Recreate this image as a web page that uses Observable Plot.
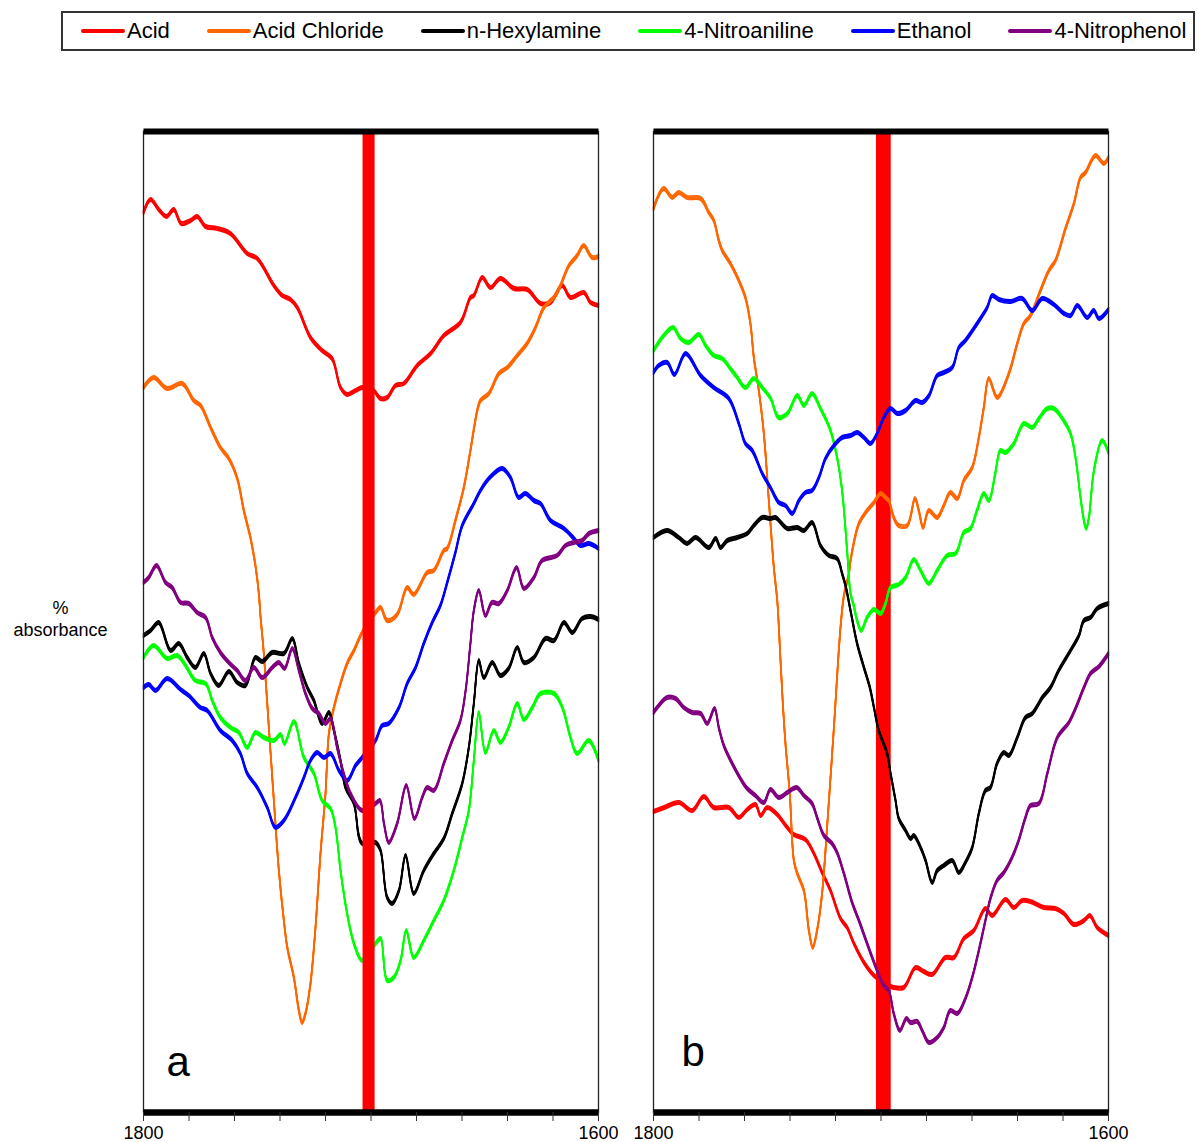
<!DOCTYPE html>
<html>
<head>
<meta charset="utf-8">
<script src="https://cdn.jsdelivr.net/npm/d3@7"></script>
<script src="https://cdn.jsdelivr.net/npm/@observablehq/plot@0.6"></script>
<style>
  body { margin: 0; background: #fff; font-family: Arial, "Liberation Sans", sans-serif; }
  #page { position: relative; width: 1199px; height: 1142px; overflow: hidden; background: #fff; }
  #legend {
    position: absolute; left: 61px; top: 11px; width: 1134px; height: 40px;
    box-sizing: border-box; border: 2px solid #333;
    display: flex; align-items: center; padding-left: 18px; gap: 37px;
    font-size: 22px; color: #000; white-space: nowrap;
  }
  .item { display: flex; align-items: center; }
  .swatch { display: inline-block; width: 44px; height: 4px; border-radius: 2px; margin-right: 2px; }
  #ylabel {
    position: absolute; left: 0; top: 597px; width: 121px; text-align: center;
    font-size: 18px; line-height: 22px; color: #000;
  }
  .panel { position: absolute; top: 100px; }
</style>
</head>
<body>
<div id="page">
  <div id="legend"></div>
  <div id="ylabel">%<br>absorbance</div>
  <div id="panelA" class="panel" style="left:100px"></div>
  <div id="panelB" class="panel" style="left:610px"></div>
</div>
<script>
// Series, in drawing order
const seriesNames = ["Acid", "Acid Chloride", "n-Hexylamine", "4-Nitroaniline", "Ethanol", "4-Nitrophenol"];
const seriesColors = ["#ff0000", "#ff6600", "#000000", "#00ff00", "#0000ff", "#800080"];

// Wavenumber axis (cm-1), reversed
const xDomain = [1800, 1600];
const tickValues = [1800, 1780, 1760, 1740, 1720, 1700, 1680, 1660, 1640, 1620, 1600];
const tickLabels = [1800, 1600];

// Marker bands [from, to] in cm-1
const bandA = [1703.5, 1698.2];
const bandB = [1702.0, 1695.5];

// Panel a spectra: [wavenumber, % absorbance]
const acidA = [[1800,89.8],[1796.9,91.1],[1793.3,90.1],[1789.9,89.4],[1786.7,90.1],[1783.4,88.7],[1779.3,89.0],[1776.4,89.4],[1772.7,88.4],[1767.6,88.2],[1761.8,87.7],[1754.4,85.7],[1750.0,85.2],[1742.7,82.5],[1739.0,81.5],[1735.4,81.1],[1732.4,80.3],[1726.6,77.3],[1721.5,76.0],[1717.1,75.2],[1713.4,72.3],[1710.5,71.6],[1706.8,72.0],[1703.9,72.3],[1701.2,72.2],[1698.8,72.0],[1695.8,71.2],[1692.9,71.3],[1689.2,72.5],[1685.6,72.7],[1679.7,74.5],[1673.8,75.7],[1668.0,77.5],[1660.7,78.8],[1656.3,81.3],[1654.8,81.5],[1651.1,83.3],[1647.5,82.3],[1643.1,83.2],[1637.2,82.2],[1631.3,82.1],[1625.5,80.7],[1621.1,80.8],[1616.0,82.5],[1612.3,81.3],[1606.5,81.8],[1603.5,80.8],[1600,80.5]];
const chlorideA = [[1800,72.3],[1795.5,73.3],[1789.6,72.2],[1783.0,72.7],[1777.9,71.0],[1774.9,70.5],[1770.5,68.3],[1766.2,66.3],[1762.5,65.2],[1758.8,63.2],[1755.9,60.0],[1753.0,57.3],[1750.8,54.5],[1749.3,51.7],[1748.6,49.5],[1747.1,45.7],[1744.9,38.3],[1742.7,31.0],[1740.5,24.0],[1738.3,19.0],[1736.8,16.3],[1733.9,13.3],[1731.7,10.0],[1730.3,8.8],[1728.8,9.7],[1726.6,12.7],[1724.4,18.3],[1722.2,25.7],[1720.0,31.7],[1718.5,37.7],[1716.3,40.3],[1713.4,42.7],[1710.5,44.7],[1707.5,46.0],[1703.9,47.8],[1698.0,49.8],[1695.8,50.3],[1692.9,49.0],[1688.5,49.6],[1684.1,52.3],[1681.2,51.6],[1675.3,53.8],[1672.4,54.0],[1668.0,56.0],[1666.5,56.2],[1662.9,59.0],[1659.2,62.3],[1656.3,66.0],[1653.3,70.0],[1651.9,71.0],[1648.2,71.7],[1643.8,73.7],[1640.1,74.3],[1635.7,75.5],[1631.4,76.7],[1627.7,78.3],[1624.0,80.3],[1618.9,81.5],[1616.7,82.5],[1613.0,84.5],[1609.4,85.5],[1606.5,86.5],[1602.8,85.3],[1600,85.4]];
const hexylamineA = [[1800,47.5],[1796.9,48.0],[1793.3,48.8],[1788.1,46.0],[1784.5,46.7],[1780.8,45.3],[1777.2,44.3],[1773.5,45.7],[1770.5,43.7],[1766.9,42.5],[1762.5,43.9],[1758.8,42.8],[1755.2,42.5],[1750.8,45.3],[1747.8,44.9],[1743.4,45.8],[1738.3,45.7],[1734.6,47.2],[1731.7,44.7],[1728.0,42.3],[1725.1,41.0],[1721.5,38.7],[1718.5,39.8],[1716.3,38.0],[1713.4,35.0],[1711.2,32.3],[1707.5,30.7],[1703.9,26.7],[1698.0,26.8],[1695.8,26.0],[1692.9,21.3],[1690.7,20.7],[1687.7,22.0],[1684.8,25.5],[1681.2,21.7],[1676.8,24.0],[1672.4,25.7],[1668.0,27.2],[1664.3,29.7],[1659.9,32.7],[1657.0,36.3],[1654.8,40.7],[1652.6,45.0],[1650.4,43.3],[1646.7,44.8],[1643.1,43.5],[1639.5,44.2],[1635.7,46.3],[1632.8,44.8],[1628.4,45.3],[1623.3,47.2],[1619.6,47.0],[1615.2,48.8],[1611.5,47.8],[1607.2,49.2],[1603.5,49.4],[1600,49.1]];
const nitroanilineA = [[1800,45.3],[1795.5,46.5],[1789.6,45.2],[1785.2,45.5],[1781.5,44.5],[1777.2,43.0],[1772.7,42.7],[1769.8,41.0],[1766.2,39.3],[1761.8,38.3],[1758.1,37.8],[1754.4,36.3],[1750.8,37.8],[1747.1,37.3],[1742.7,37.0],[1739.8,37.6],[1738.0,36.7],[1733.9,38.9],[1729.5,35.3],[1725.1,33.7],[1721.5,31.0],[1717.8,30.2],[1715.6,28.3],[1713.4,24.0],[1710.5,19.7],[1707.5,16.7],[1703.9,15.0],[1698.0,16.7],[1695.8,17.2],[1692.9,13.0],[1690.0,13.3],[1687.0,15.0],[1684.5,18.0],[1681.2,15.3],[1676.8,17.0],[1672.4,19.0],[1668.0,21.0],[1663.6,24.0],[1659.9,27.3],[1657.0,30.0],[1654.8,35.0],[1652.6,39.8],[1649.7,35.8],[1646.0,38.0],[1643.1,36.8],[1639.5,38.3],[1635.7,40.7],[1632.8,39.1],[1629.1,40.3],[1625.5,41.7],[1619.6,41.7],[1615.9,40.3],[1612.3,37.3],[1609.4,35.7],[1604.3,37.0],[1600,35.0]];
const ethanolA = [[1800,42.3],[1797.7,42.6],[1794.7,42.0],[1789.6,43.2],[1783.7,42.1],[1780.1,41.5],[1775.0,40.3],[1772.0,40.0],[1766.2,38.0],[1761.0,37.0],[1757.4,35.7],[1754.4,33.7],[1750.0,32.3],[1745.6,30.3],[1742.0,28.3],[1738.3,29.0],[1733.2,31.3],[1729.5,33.3],[1726.6,35.0],[1723.7,35.8],[1720.7,35.3],[1717.8,35.7],[1714.1,34.0],[1710.5,33.0],[1706.8,34.5],[1703.9,35.3],[1698.0,37.0],[1695.1,38.5],[1692.2,38.7],[1687.7,40.3],[1684.1,42.7],[1680.4,44.3],[1676.8,46.7],[1673.1,48.8],[1669.5,50.5],[1666.5,52.8],[1662.9,55.8],[1659.9,58.5],[1654.8,60.7],[1651.9,62.0],[1648.2,63.2],[1642.4,64.2],[1638.7,63.3],[1635.1,61.3],[1632.2,61.7],[1628.4,61.0],[1625.5,60.7],[1621.1,59.0],[1615.2,58.2],[1610.8,57.2],[1607.9,56.5],[1604.2,56.7],[1600,56.2]];
const nitrophenolA = [[1800,52.8],[1797.7,53.3],[1794.3,54.5],[1790.3,52.8],[1787.4,52.3],[1783.7,50.8],[1780.1,50.7],[1776.4,49.8],[1772.7,49.3],[1769.8,47.3],[1766.2,45.8],[1762.5,44.8],[1758.8,44.0],[1755.2,43.0],[1751.5,44.3],[1747.8,43.3],[1743.4,44.3],[1740.5,44.8],[1738.0,44.2],[1734.6,46.2],[1731.7,44.0],[1728.8,41.7],[1725.8,40.2],[1722.9,39.7],[1720.0,38.7],[1717.8,39.2],[1714.9,36.3],[1712.0,33.7],[1709.0,31.7],[1703.9,30.0],[1698.0,30.7],[1696.1,31.0],[1694.3,28.7],[1692.2,26.8],[1688.5,28.7],[1684.5,32.5],[1680.9,29.2],[1677.5,31.3],[1675.3,32.3],[1672.4,32.0],[1668.0,34.7],[1664.3,37.0],[1660.7,39.0],[1658.4,42.0],[1656.3,46.7],[1654.8,50.0],[1652.6,52.0],[1649.7,49.5],[1646.8,50.8],[1643.8,50.7],[1640.1,52.0],[1636.0,54.3],[1632.8,52.2],[1628.4,53.3],[1624.8,55.0],[1618.2,55.5],[1614.5,56.5],[1610.8,56.8],[1607.2,57.0],[1604.2,57.7],[1600,58.0]];

// Panel b spectra: [wavenumber, % absorbance]
const acidB = [[1800,29.9],[1795.3,30.3],[1788.9,30.8],[1783.0,30.0],[1777.9,31.4],[1773.5,30.3],[1766.9,30.3],[1762.5,29.3],[1758.8,30.1],[1755.2,30.6],[1752.9,29.5],[1750.0,30.3],[1745.6,29.6],[1741.9,28.5],[1738.3,27.6],[1733.2,27.1],[1729.5,25.7],[1725.9,23.8],[1722.2,22.0],[1717.8,19.2],[1714.9,18.3],[1711.9,16.7],[1707.5,14.8],[1703.1,13.5],[1698.8,12.8],[1694.4,12.3],[1690.0,12.3],[1684.8,14.3],[1681.2,13.9],[1677.5,13.6],[1671.7,15.3],[1668.0,15.3],[1663.6,17.2],[1659.2,18.0],[1654.1,20.2],[1651.1,19.5],[1645.3,21.1],[1641.6,20.3],[1638.0,21.0],[1634.3,20.9],[1628.4,20.3],[1623.3,20.2],[1619.6,19.7],[1615.2,18.6],[1610.8,19.0],[1608.2,19.5],[1605.0,18.3],[1600,17.5]];
const chlorideB = [[1800,90.2],[1795.5,92.2],[1791.8,91.3],[1788.9,91.8],[1785.2,91.3],[1779.3,91.2],[1775.7,89.8],[1773.5,89.0],[1771.3,87.0],[1769.8,86.0],[1766.2,84.7],[1762.5,83.0],[1759.6,81.3],[1757.4,78.7],[1755.9,75.3],[1753.7,72.0],[1751.5,67.7],[1749.3,61.0],[1747.1,54.3],[1745.6,51.0],[1744.9,48.3],[1743.4,41.7],[1742.0,36.7],[1740.1,31.7],[1738.3,25.0],[1736.8,23.7],[1733.9,22.0],[1731.7,18.0],[1730.0,16.3],[1728.1,18.0],[1725.9,21.7],[1723.7,28.3],[1720.7,38.3],[1717.8,48.3],[1716.3,51.5],[1714.1,53.7],[1713.4,55.0],[1709.7,58.7],[1706.1,60.0],[1703.1,60.8],[1700.2,61.7],[1698.0,61.3],[1696.6,61.0],[1694.4,59.3],[1692.2,58.5],[1688.5,58.5],[1685.1,61.2],[1683.4,60.0],[1681.5,58.3],[1679.0,60.0],[1675.3,59.3],[1672.4,60.5],[1669.5,61.8],[1666.5,61.2],[1663.6,63.0],[1659.9,64.3],[1657.0,67.3],[1654.8,70.3],[1652.6,73.2],[1648.9,71.3],[1643.8,73.7],[1640.1,76.7],[1637.2,78.7],[1634.3,79.5],[1629.9,82.0],[1626.2,84.0],[1623.3,85.0],[1618.9,88.2],[1615.2,90.7],[1612.3,93.3],[1610.1,93.8],[1605.7,95.5],[1602.1,94.7],[1600,95.3]];
const hexylamineB = [[1800,57.3],[1794.0,58.0],[1788.9,57.3],[1785.2,56.7],[1781.5,57.3],[1775.7,56.3],[1772.7,57.2],[1770.5,56.3],[1767.6,57.0],[1763.2,57.3],[1758.8,57.7],[1755.9,58.5],[1752.2,59.3],[1748.5,59.2],[1746.4,59.3],[1741.2,58.2],[1736.8,58.3],[1733.9,58.0],[1730.3,58.8],[1726.6,56.5],[1722.9,55.5],[1719.3,55.2],[1717.1,53.7],[1715.6,52.5],[1713.4,50.0],[1710.5,46.7],[1707.5,44.3],[1704.9,42.3],[1703.1,40.3],[1701.0,38.0],[1697.3,35.7],[1695.8,33.7],[1693.6,31.0],[1692.2,29.2],[1689.2,28.0],[1687.0,27.2],[1685.6,27.5],[1682.6,26.3],[1680.4,25.0],[1677.5,22.8],[1675.3,24.0],[1672.4,24.5],[1668.7,25.0],[1665.8,23.8],[1662.9,24.8],[1659.9,26.3],[1657.0,29.7],[1654.1,32.0],[1651.9,32.3],[1649.0,34.7],[1646.0,35.8],[1643.8,35.5],[1640.1,37.3],[1636.5,39.3],[1633.5,39.7],[1629.1,41.3],[1625.5,42.3],[1621.9,44.0],[1616.7,46.0],[1613.0,47.5],[1610.8,49.0],[1607.9,49.3],[1605.0,50.2],[1600,50.7]];
const nitroanilineB = [[1800,76.0],[1795.5,77.5],[1791.4,78.3],[1788.1,77.2],[1784.5,76.8],[1780.1,77.6],[1777.1,76.5],[1773.5,75.5],[1769.8,75.2],[1766.2,74.2],[1763.2,73.3],[1759.6,72.3],[1755.9,73.2],[1752.2,72.3],[1748.5,71.2],[1745.0,69.3],[1741.2,69.7],[1736.8,71.5],[1733.9,70.5],[1730.3,71.7],[1726.6,70.2],[1722.2,68.0],[1719.3,65.3],[1717.1,62.0],[1714.9,56.0],[1713.4,51.7],[1712.0,50.5],[1710.5,49.0],[1708.7,48.0],[1706.1,49.3],[1703.1,50.1],[1700.2,49.7],[1698.0,50.7],[1695.8,52.3],[1692.2,52.6],[1689.2,53.3],[1685.6,55.1],[1682.6,54.0],[1679.0,52.7],[1675.3,54.0],[1670.9,55.5],[1667.2,55.7],[1663.6,57.8],[1660.7,58.2],[1657.8,60.0],[1654.8,61.7],[1652.6,61.0],[1649.7,63.8],[1647.5,66.0],[1645.3,65.8],[1641.6,66.7],[1637.2,68.7],[1633.5,68.3],[1630.6,69.2],[1626.9,70.2],[1624.0,70.2],[1620.3,69.2],[1616.7,67.7],[1614.5,65.3],[1612.3,61.3],[1610.8,59.0],[1609.8,58.2],[1608.6,59.3],[1606.4,64.0],[1602.8,67.0],[1600,65.8]];
const ethanolB = [[1800,73.8],[1797.7,74.5],[1794.0,74.8],[1790.8,73.6],[1785.9,75.7],[1779.3,73.5],[1773.5,72.3],[1766.9,71.2],[1762.5,68.7],[1759.6,66.7],[1756.6,66.0],[1752.2,63.7],[1748.6,62.3],[1744.9,60.8],[1742.0,60.5],[1739.0,59.7],[1736.1,61.0],[1733.2,61.8],[1730.3,62.0],[1727.3,63.3],[1724.4,65.2],[1720.7,66.5],[1717.1,67.3],[1713.4,67.5],[1710.5,67.8],[1707.5,67.3],[1704.6,66.7],[1701.7,67.7],[1698.8,69.3],[1695.8,70.2],[1692.9,69.7],[1689.2,70.0],[1684.8,71.0],[1681.9,70.8],[1678.9,71.5],[1675.3,73.5],[1672.4,73.8],[1668.7,74.3],[1665.8,76.3],[1662.9,77.0],[1659.2,78.2],[1656.3,79.2],[1653.3,80.3],[1651.1,81.5],[1648.2,81.1],[1643.1,80.9],[1638.0,81.2],[1633.5,80.0],[1629.1,81.2],[1624.0,80.6],[1619.6,79.7],[1616.7,79.5],[1613.7,80.5],[1609.4,79.3],[1606.5,80.0],[1604.2,79.2],[1600,80.1]];
const nitrophenolB = [[1800,39.8],[1798.4,40.3],[1794.0,41.3],[1790.3,41.2],[1786.7,40.3],[1783.0,39.8],[1779.3,39.7],[1776.4,38.7],[1773.2,40.2],[1771.3,38.3],[1769.1,36.5],[1765.4,34.7],[1761.8,33.2],[1758.8,32.2],[1755.2,31.5],[1751.5,30.8],[1748.6,32.1],[1744.9,31.3],[1741.2,31.8],[1737.1,32.3],[1733.9,31.5],[1730.3,30.7],[1728.1,29.3],[1725.1,27.5],[1721.5,26.7],[1719.3,25.8],[1716.3,23.7],[1712.7,20.8],[1709.7,19.0],[1706.1,16.7],[1701.7,14.0],[1698.8,12.5],[1696.6,12.0],[1694.4,9.7],[1691.7,8.0],[1688.8,9.2],[1687.0,8.8],[1684.1,8.9],[1681.9,8.0],[1678.9,6.8],[1675.3,7.3],[1672.4,8.3],[1669.5,10.0],[1666.5,9.7],[1662.9,11.2],[1659.9,13.3],[1657.0,16.0],[1654.1,19.0],[1651.9,21.2],[1649.0,23.0],[1646.0,23.8],[1642.4,25.3],[1639.5,27.0],[1636.5,29.3],[1634.3,30.5],[1630.6,30.7],[1626.9,33.7],[1622.5,37.3],[1617.4,38.8],[1614.5,40.2],[1610.8,42.3],[1607.9,43.7],[1604.2,44.4],[1600,45.7]];

// Legend
const legend = d3.select("#legend");
seriesNames.forEach((name, i) => {
  const item = legend.append("div").attr("class", "item");
  item.append("span").attr("class", "swatch").style("background", seriesColors[i]);
  item.append("span").text(name);
});

// Each trace is stroked several times with small vertical offsets,
// giving the flat-brush look of the original spectra plot.
const brushOffsets = [-1.7, -0.6, 0.6, 1.7];

function traceMarks(tables) {
  const marks = [];
  seriesNames.forEach((name, i) => {
    const rows = tables[i].map(([w, v]) => ({series: name, w, v}));
    brushOffsets.forEach(dy => {
      marks.push(Plot.line(rows, {
        x: "w", y: "v", stroke: "series", strokeWidth: 1.6,
        curve: "catmull-rom", strokeLinejoin: "round", dy
      }));
    });
  });
  return marks;
}

function panel({tables, band, bandOnTop, letter, letterDx, letterDy}) {
  const bandMark = Plot.rect([band], {x1: d => d[0], x2: d => d[1], fill: "#ff0000"});
  const lines = traceMarks(tables);
  const layers = bandOnTop ? [...lines, bandMark] : [bandMark, ...lines];
  return Plot.plot({
    width: 540,
    height: 1042,
    marginLeft: 43,
    marginRight: 42,
    marginTop: 31,
    marginBottom: 30,
    style: {fontFamily: "Arial, 'Liberation Sans', sans-serif", fontSize: "18px", color: "#000", background: "transparent", overflow: "visible"},
    x: {domain: xDomain, label: null},
    y: {domain: [-0.2, 97.9], axis: null},
    color: {domain: seriesNames, range: seriesColors},
    marks: [
      ...layers,
      Plot.frame({anchor: "left", stroke: "#222", strokeWidth: 1.3}),
      Plot.frame({anchor: "right", stroke: "#222", strokeWidth: 1.3}),
      Plot.frame({anchor: "top", stroke: "#000", strokeWidth: 6, strokeLinecap: "butt"}),
      Plot.frame({anchor: "bottom", stroke: "#000", strokeWidth: 6.5, strokeLinecap: "butt"}),
      Plot.axisX({
        ticks: tickValues, tickSize: 9, tickPadding: 5, stroke: "#333", label: null,
        tickFormat: d => tickLabels.includes(d) ? String(d) : ""
      }),
      Plot.text([letter], {
        text: d => d, frameAnchor: "bottom-left", textAnchor: "start", lineAnchor: "bottom",
        dx: letterDx, dy: letterDy, fontSize: 42, fill: "#000"
      })
    ]
  });
}

document.getElementById("panelA").append(panel({
  tables: [acidA, chlorideA, hexylamineA, nitroanilineA, ethanolA, nitrophenolA],
  band: bandA, bandOnTop: true, letter: "a", letterDx: 23, letterDy: -37
}));
document.getElementById("panelB").append(panel({
  tables: [acidB, chlorideB, hexylamineB, nitroanilineB, ethanolB, nitrophenolB],
  band: bandB, bandOnTop: false, letter: "b", letterDx: 28, letterDy: -47
}));
</script>
</body>
</html>
